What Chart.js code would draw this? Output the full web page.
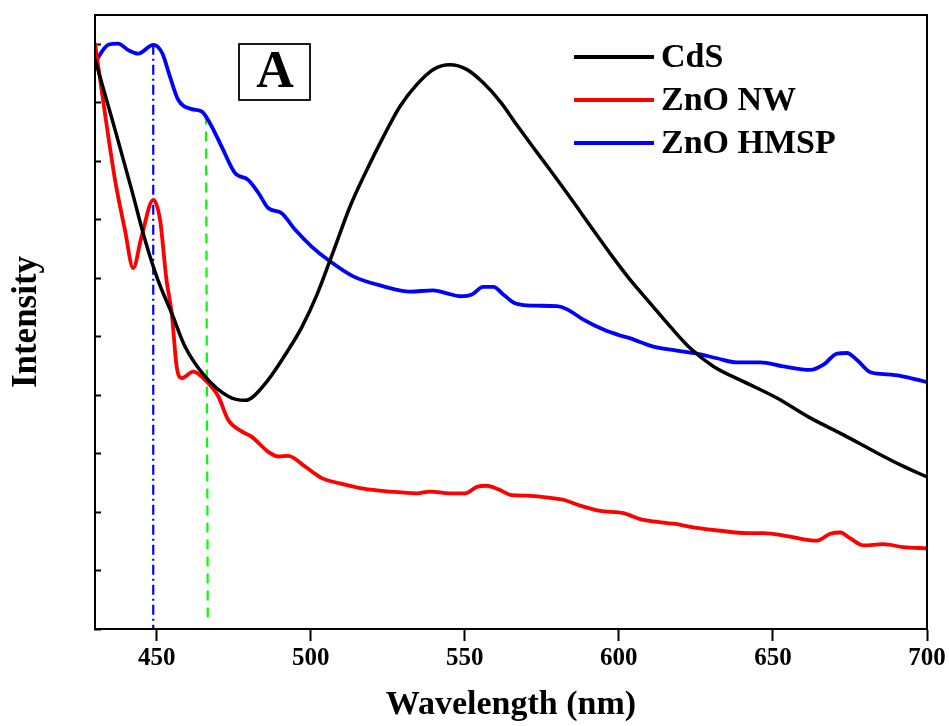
<!DOCTYPE html>
<html>
<head>
<meta charset="utf-8">
<script src="https://cdn.jsdelivr.net/npm/chart.js@4.4.1/dist/chart.umd.min.js"></script>
<style>
  html, body { margin: 0; padding: 0; background: #fff; }
  #wrap { width: 949px; height: 726px; }
</style>
</head>
<body>
<div id="wrap"><canvas id="c" width="949" height="726"></canvas></div>
<script>
// ---- Data ----
const seriesNames = ['CdS', 'ZnO NW', 'ZnO HMSP'];

const cdsX = [430, 436.5, 441.9, 446.2, 450.4, 454.9, 459.2, 465.7, 473.2, 478.7, 480.8, 486.2, 492.7, 497.0, 501.9, 507.3, 512.8, 518.2, 523.6, 529.0, 534.4, 539.8, 545.2, 550.6, 556.0, 561.5, 566.9, 572.3, 577.7, 583.1, 588.5, 593.9, 597.2, 603.7, 610.2, 616.7, 623.2, 630.7, 640.5, 651.3, 662.1, 672.9, 683.8, 692.4, 700];
const cdsY = [9.74, 8.54, 7.51, 6.66, 5.97, 5.40, 4.83, 4.32, 3.98, 3.91, 3.95, 4.26, 4.77, 5.15, 5.70, 6.45, 7.23, 7.85, 8.42, 8.94, 9.31, 9.57, 9.65, 9.57, 9.34, 9.02, 8.62, 8.23, 7.85, 7.46, 7.06, 6.66, 6.42, 5.97, 5.57, 5.17, 4.80, 4.49, 4.23, 3.95, 3.61, 3.32, 3.01, 2.78, 2.60];

const nwX = [430, 433.2, 436.5, 439.7, 442.4, 445.1, 448.9, 451.1, 453.2, 454.9, 456.5, 458.1, 461.9, 465.7, 470.0, 473.2, 477.6, 480.8, 486.2, 489.5, 492.7, 498.1, 503.6, 509.5, 517.1, 525.7, 534.4, 538.7, 545.2, 550.1, 553.9, 557.1, 560.9, 565.3, 570.1, 576.6, 582.0, 587.4, 593.9, 601.5, 606.9, 611.2, 617.7, 625.3, 632.9, 641.6, 646.9, 654.5, 664.3, 668.6, 671.9, 675.1, 679.4, 685.9, 692.4, 700];
const nwY = [10.02, 8.83, 7.68, 6.83, 6.17, 6.71, 7.34, 7.00, 5.97, 5.40, 4.49, 4.29, 4.40, 4.26, 3.98, 3.58, 3.38, 3.29, 3.03, 2.95, 2.96, 2.78, 2.58, 2.49, 2.40, 2.35, 2.32, 2.35, 2.32, 2.32, 2.43, 2.45, 2.39, 2.29, 2.28, 2.25, 2.21, 2.11, 2.02, 1.98, 1.88, 1.84, 1.80, 1.73, 1.68, 1.64, 1.64, 1.59, 1.51, 1.63, 1.65, 1.55, 1.43, 1.45, 1.40, 1.38];

const hmspX = [430, 434.3, 437.5, 440.8, 444.0, 448.9, 451.8, 454.3, 457.0, 461.4, 464.6, 467.3, 471.1, 475.4, 479.7, 483.0, 486.2, 490.6, 494.9, 500.3, 505.7, 513.8, 523.6, 532.2, 539.8, 544.2, 548.5, 552.3, 556.0, 559.3, 562.5, 566.3, 572.3, 579.9, 583.1, 588.5, 595.0, 600.4, 603.7, 611.2, 618.8, 625.3, 631.8, 638.3, 645.9, 653.4, 662.1, 666.4, 670.8, 674.0, 677.3, 681.6, 685.9, 691.3, 700];
const hmspY = [9.69, 9.99, 10.01, 9.90, 9.84, 9.99, 9.85, 9.45, 9.05, 8.89, 8.85, 8.65, 8.25, 7.80, 7.68, 7.46, 7.20, 7.11, 6.83, 6.54, 6.31, 6.03, 5.86, 5.77, 5.79, 5.74, 5.69, 5.72, 5.85, 5.85, 5.72, 5.57, 5.53, 5.52, 5.47, 5.29, 5.12, 5.02, 4.97, 4.83, 4.76, 4.71, 4.63, 4.56, 4.56, 4.49, 4.43, 4.52, 4.71, 4.72, 4.60, 4.39, 4.36, 4.33, 4.22];

// marker lines (wavelength, intensity range)
const blueMarkX = [448.9, 448.9];
const blueMarkY = [9.99, 0];
const greenMarkX = [466.0, 466.6];
const greenMarkY = [8.8, 0.14];

const xTickMin = 430, xTickMax = 700, xStep = 50;
const yMin = 0, yMax = 10.5, yStep = 1;

// ---- Build chart ----
const FONT = '"Liberation Serif", "Times New Roman", serif';
const pts = (xs, ys) => xs.map((x, i) => ({ x: x, y: ys[i] }));

const decor = {
  id: 'decor',
  afterDatasetsDraw(chart) {
    const { ctx, chartArea: a } = chart;
    ctx.save();
    ctx.strokeStyle = '#000';
    ctx.lineWidth = 2;
    ctx.strokeRect(a.left, a.top, a.right - a.left, a.bottom - a.top);
    // panel label box
    ctx.lineWidth = 1.8;
    ctx.strokeRect(239, 44, 71, 56);
    ctx.fillStyle = '#000';
    ctx.font = 'bold 52px ' + FONT;
    ctx.textAlign = 'center';
    ctx.textBaseline = 'alphabetic';
    ctx.fillText('A', 275, 87);
    // legend
    ctx.font = 'bold 34px ' + FONT;
    ctx.textAlign = 'left';
    ctx.textBaseline = 'middle';
    for (let i = 0; i < 3; i++) {
      const ds = chart.data.datasets[i];
      const y = 57 + i * 43;
      ctx.strokeStyle = ds.borderColor;
      ctx.lineWidth = 4;
      ctx.beginPath();
      ctx.moveTo(574, y);
      ctx.lineTo(654, y);
      ctx.stroke();
      ctx.fillStyle = '#000';
      ctx.fillText(ds.label, 661, y + 1);
    }
    ctx.restore();
  }
};

new Chart(document.getElementById('c'), {
  type: 'line',
  data: {
    datasets: [
      { label: seriesNames[0], data: pts(cdsX, cdsY), borderColor: '#000000', borderWidth: 3.5, pointRadius: 0, cubicInterpolationMode: 'monotone', fill: false },
      { label: seriesNames[1], data: pts(nwX, nwY), borderColor: '#ff0000', borderWidth: 3.8, pointRadius: 0, cubicInterpolationMode: 'monotone', fill: false },
      { label: seriesNames[2], data: pts(hmspX, hmspY), borderColor: '#0000ff', borderWidth: 3.8, pointRadius: 0, cubicInterpolationMode: 'monotone', fill: false },
      { label: 'mark1', data: pts(blueMarkX, blueMarkY), borderColor: '#0000ff', borderWidth: 2.2, borderDash: [10, 4, 2, 4], pointRadius: 0, tension: 0, fill: false },
      { label: 'mark2', data: pts(greenMarkX, greenMarkY), borderColor: '#00ff00', borderWidth: 2.2, borderDash: [10, 7], pointRadius: 0, tension: 0, fill: false }
    ]
  },
  options: {
    responsive: false,
    animation: false,
    events: [],
    layout: { padding: { top: 15, right: 22, left: 0, bottom: 0 } },
    plugins: { legend: { display: false }, tooltip: { enabled: false } },
    scales: {
      x: {
        type: 'linear',
        min: xTickMin, max: xTickMax,
        ticks: { stepSize: xStep, includeBounds: false, color: '#000', padding: 3, font: { family: FONT, size: 25, weight: 'bold' } },
        grid: { drawOnChartArea: false, drawTicks: true, tickLength: 12, tickWidth: 2, tickColor: '#000' },
        border: { display: true, color: '#000', width: 2 },
        title: { display: true, text: 'Wavelength (nm)', color: '#000', font: { family: FONT, size: 34, weight: 'bold' }, padding: { top: 0, bottom: 0 } },
        afterFit(s) { s.height = 97; }
      },
      y: {
        type: 'linear',
        min: yMin, max: yMax,
        ticks: { display: false, stepSize: yStep, includeBounds: false },
        grid: { drawOnChartArea: false, drawTicks: true, tickLength: -6, tickWidth: 2, tickColor: '#000' },
        border: { display: true, color: '#000', width: 2 },
        title: { display: true, text: 'Intensity', color: '#000', font: { family: FONT, size: 35, weight: 'bold' }, padding: { top: 6, bottom: 0 } },
        afterFit(s) { s.width = 95; }
      }
    }
  },
  plugins: [decor]
});
</script>
</body>
</html>
